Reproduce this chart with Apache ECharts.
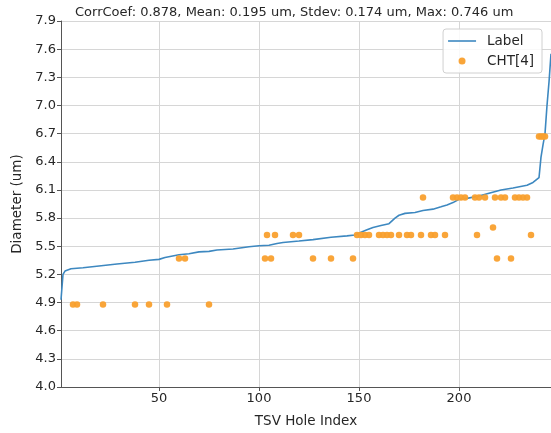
<!DOCTYPE html>
<html lang="en">
<head>
  <meta charset="UTF-8">
  <title>TSV Diameter</title>
  <style>
    * { margin: 0; padding: 0; }
    body { background: #fff; overflow: hidden; }
    #chart { width: 551px; height: 433px; }
  </style>
</head>
<body>
  <div id="chart"></div>
  <script src="https://cdn.jsdelivr.net/npm/echarts@6/dist/echarts.min.js"></script>
  <script>
    const titleText = 'CorrCoef: 0.878, Mean: 0.195 um, Stdev: 0.174 um, Max: 0.746 um';

    // sorted label diameters (hole index -> um)
    const labelIdx = [1, 2, 3, 4, 6, 12, 20, 29, 38, 45, 50, 53, 60, 65, 70, 75, 79, 87, 95, 100,
      105, 109, 112, 120, 127, 136, 144, 148, 151, 154, 157, 161, 165, 168, 170, 173, 178, 182, 187, 191,
      194, 197, 200, 204, 210, 215, 221, 227, 234, 237, 240, 241, 242, 243, 244, 245, 246];
    const labelVal = [4.93, 5.2, 5.235, 5.245, 5.26, 5.27, 5.29, 5.31, 5.33, 5.35, 5.36, 5.38, 5.41, 5.42, 5.44, 5.445, 5.46, 5.47, 5.495, 5.505,
      5.51, 5.53, 5.54, 5.555, 5.57, 5.595, 5.61, 5.62, 5.65, 5.675, 5.70, 5.72, 5.74, 5.80, 5.83, 5.85, 5.86, 5.88, 5.895, 5.92,
      5.94, 5.965, 6.0, 6.01, 6.035, 6.065, 6.10, 6.12, 6.15, 6.18, 6.23, 6.45, 6.58, 6.70, 7.0, 7.25, 7.55];

    // CHT[4] predictions
    const chtIdx = [
      7, 9, 22, 38, 45, 54, 75,
      60, 63, 103, 106, 127, 136, 147, 219, 226,
      104, 108, 117, 120, 149, 151, 153, 155, 160, 162, 164, 166, 170, 174, 176, 181, 186, 188, 193, 209, 236,
      217,
      182, 197, 199, 201, 203, 208, 210, 213, 218, 221, 223, 228, 230, 232, 234,
      240, 241, 242, 243
    ];
    const chtVal = [
      4.88, 4.88, 4.88, 4.88, 4.88, 4.88, 4.88,
      5.37, 5.37, 5.37, 5.37, 5.37, 5.37, 5.37, 5.37, 5.37,
      5.62, 5.62, 5.62, 5.62, 5.62, 5.62, 5.62, 5.62, 5.62, 5.62, 5.62, 5.62, 5.62, 5.62, 5.62, 5.62, 5.62, 5.62, 5.62, 5.62, 5.62,
      5.70,
      6.02, 6.02, 6.02, 6.02, 6.02, 6.02, 6.02, 6.02, 6.02, 6.02, 6.02, 6.02, 6.02, 6.02, 6.02,
      6.67, 6.67, 6.67, 6.67
    ];

    const xTicks = [50, 100, 150, 200];

    const textColor = '#262626';
    const gridColor = '#d6d6d6';
    const axisColor = '#555';
    const lineColor = '#3d88c0';
    const dotColor = '#f9a02e';

    const chart = echarts.init(document.getElementById('chart'));
    chart.setOption({
      animation: false,
      textStyle: { fontFamily: 'DejaVu Sans' },
      title: {
        text: titleText,
        left: 70,
        top: 1,
        textStyle: { fontSize: 13, fontWeight: 'normal', color: textColor }
      },
      grid: { left: 61, right: 0, top: 21, bottom: 36 },
      legend: {
        orient: 'vertical',
        right: 9,
        top: 29,
        itemWidth: 28,
        itemHeight: 7,
        itemGap: 6,
        padding: [5, 8, 5, 5],
        backgroundColor: 'rgba(255,255,255,0.85)',
        borderColor: '#d0d0d0',
        borderWidth: 1,
        borderRadius: 3,
        textStyle: { fontSize: 13.5, color: textColor, padding: [0, 0, 0, 6] },
        data: [
          { name: 'Label', icon: 'path://M0,0 L28,0 L28,1.6 L0,1.6 Z', itemStyle: { color: lineColor } },
          { name: 'CHT[4]', icon: 'circle' }
        ]
      },
      xAxis: {
        type: 'value',
        min: 1,
        max: 246,
        name: 'TSV Hole Index',
        nameLocation: 'middle',
        nameGap: 27,
        nameTextStyle: { fontSize: 13.5, color: textColor },
        axisLine: { show: true, lineStyle: { color: axisColor } },
        axisTick: { show: true, customValues: xTicks, length: 4, lineStyle: { color: axisColor } },
        axisLabel: { customValues: xTicks, fontSize: 13, color: textColor, margin: 5 },
        splitLine: { show: true, lineStyle: { color: gridColor } }
      },
      yAxis: {
        type: 'value',
        min: 4.0,
        max: 7.9,
        interval: 0.3,
        name: 'Diameter (um)',
        nameLocation: 'middle',
        nameGap: 36,
        nameTextStyle: { fontSize: 13.5, color: textColor },
        axisLine: { show: true, lineStyle: { color: axisColor } },
        axisTick: { show: true, length: 4, lineStyle: { color: axisColor } },
        axisLabel: { fontSize: 13, color: textColor, margin: 5, formatter: v => v.toFixed(1) },
        splitLine: { show: true, lineStyle: { color: gridColor } }
      },
      series: [
        {
          name: 'Label',
          type: 'line',
          symbol: 'none',
          color: lineColor,
          lineStyle: { width: 1.6, color: lineColor },
          data: labelIdx.map((x, i) => [x, labelVal[i]]),
          z: 2
        },
        {
          name: 'CHT[4]',
          type: 'scatter',
          symbolSize: 6.5,
          color: dotColor,
          itemStyle: { color: dotColor, opacity: 0.95 },
          data: chtIdx.map((x, i) => [x, chtVal[i]]),
          z: 3
        }
      ]
    });
  </script>
</body>
</html>
